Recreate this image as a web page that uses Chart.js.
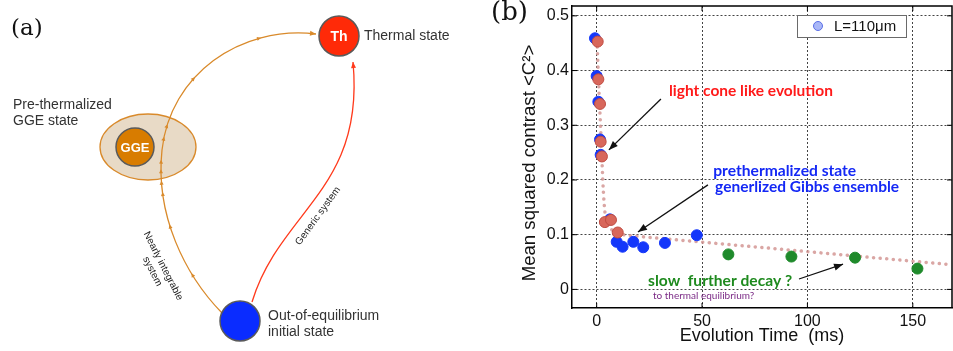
<!DOCTYPE html>
<html lang="en">
<head>
<meta charset="UTF-8">
<title>Prethermalization</title>
<script src="https://cdn.jsdelivr.net/npm/chart.js"></script>
<style>
    body {
        margin: 0;
        background: #fff;
        width: 953px;
        height: 351px;
        position: relative;
        overflow: hidden;
    }
    #diagram { position: absolute; left: 0; top: 0; }
    #mycanvas { position: absolute; left: 480px; top: 0; }
</style>
</head>
<body>
<canvas id="diagram" width="480" height="351"></canvas>
<canvas id="mycanvas" width="473" height="351"></canvas>

<script>
// ---- panel (b) data ----
var blueX  = [-0.8, 0.0, 0.8, 1.6, 1.9, 6.3, 9.5, 12.3, 17.4, 22.1, 32.4, 47.5];
var blueY  = [0.459, 0.390, 0.343, 0.274, 0.246, 0.128, 0.087, 0.078, 0.087, 0.077, 0.085, 0.099];
var redX   = [0.5, 0.8, 1.6, 1.9, 2.5, 3.9, 6.8, 10.0];
var redY   = [0.453, 0.384, 0.339, 0.270, 0.243, 0.123, 0.127, 0.104];
var greenX = [62.5, 92.4, 122.6, 152.2];
var greenY = [0.064, 0.060, 0.058, 0.038];
// dotted guide curve
var fitX = [0.2, 0.8, 1.6, 2.4, 2.9, 3.5, 4.4, 6.5, 10, 20, 34, 80, 120, 166];
var fitY = [0.455, 0.39, 0.32, 0.25, 0.20, 0.16, 0.128, 0.112, 0.103, 0.097, 0.092, 0.076, 0.062, 0.046];

var xTicks = [0, 50, 100, 150];
var yTicks = [0, 0.1, 0.2, 0.3, 0.4, 0.5];
var legendLabel = 'L=110μm';
var xTitle = 'Evolution Time  (ms)';
var yTitle = 'Mean squared contrast <C²>';

// text notes on the plot (data coordinates)
var notes = [
    { text: 'light cone like evolution', x: 34.3, y: 0.3625, color: '#ff1a1a', font: 'bold 16px Lato', w: 164 },
    { text: 'prethermalized state', x: 55.3, y: 0.2167, color: '#1428f5', font: 'bold 16px Lato', w: 143 },
    { text: 'generlized Gibbs ensemble', x: 56.2, y: 0.1872, color: '#1428f5', font: 'bold 16px Lato', w: 184 },
    { text: 'slow  further decay ?', x: 24.4, y: 0.0152, color: '#1e8a1e', font: 'bold 16px Lato', w: 144 },
    { text: 'to thermal equilibrium?', x: 26.7, y: -0.0122, color: '#7b2b86', font: '10px Lato', w: 106 }
];
var arrows = [
    { x1: 30.5, y1: 0.348, x2: 5.8, y2: 0.255 },
    { x1: 52.8, y1: 0.191, x2: 19.6, y2: 0.105 },
    { x1: 96.0, y1: 0.019, x2: 116.9, y2: 0.046 }
];

function pts(xs, ys) {
    return xs.map(function (x, i) { return { x: x, y: ys[i] }; });
}

function arrowHead(ctx, x1, y1, x2, y2, len, half) {
    var a = Math.atan2(y2 - y1, x2 - x1);
    ctx.beginPath();
    ctx.moveTo(x2, y2);
    ctx.lineTo(x2 - len * Math.cos(a) + half * Math.sin(a), y2 - len * Math.sin(a) - half * Math.cos(a));
    ctx.lineTo(x2 - len * Math.cos(a) - half * Math.sin(a), y2 - len * Math.sin(a) + half * Math.cos(a));
    ctx.closePath();
    ctx.fill();
}

var decorPlugin = {
    id: 'decor',
    afterDraw: function (chart) {
        var ctx = chart.ctx;
        var a = chart.chartArea;
        var sx = chart.scales.x, sy = chart.scales.y;
        ctx.save();

        // frame top / right + inward tick marks
        ctx.strokeStyle = '#000';
        ctx.lineWidth = 1.5;
        ctx.beginPath();
        ctx.moveTo(a.left, a.top); ctx.lineTo(a.right, a.top); ctx.lineTo(a.right, a.bottom);
        ctx.stroke();
        ctx.lineWidth = 1;
        xTicks.forEach(function (v) {
            var p = sx.getPixelForValue(v);
            ctx.beginPath();
            ctx.moveTo(p, a.top); ctx.lineTo(p, a.top + 5);
            ctx.moveTo(p, a.bottom); ctx.lineTo(p, a.bottom - 5);
            ctx.stroke();
        });
        yTicks.forEach(function (v) {
            var p = sy.getPixelForValue(v);
            ctx.beginPath();
            ctx.moveTo(a.left, p); ctx.lineTo(a.left + 5, p);
            ctx.moveTo(a.right, p); ctx.lineTo(a.right - 5, p);
            ctx.stroke();
        });

        // legend box
        var lx = a.right - 155, ly = a.top + 9;
        ctx.fillStyle = '#fff';
        ctx.fillRect(lx, ly, 109, 22);
        ctx.strokeStyle = '#6a6a6a';
        ctx.lineWidth = 1;
        ctx.strokeRect(lx + 0.5, ly + 0.5, 109, 22);
        ctx.beginPath();
        ctx.arc(lx + 21, ly + 11, 4.5, 0, Math.PI * 2);
        ctx.fillStyle = '#a9b7f7';
        ctx.fill();
        ctx.strokeStyle = '#5b6fe6';
        ctx.stroke();
        ctx.fillStyle = '#111';
        ctx.font = '15px "Liberation Sans", Arial, sans-serif';
        ctx.textBaseline = 'middle';
        ctx.textAlign = 'left';
        ctx.fillText(legendLabel, lx + 37, ly + 12);

        // arrows
        ctx.strokeStyle = '#111';
        ctx.fillStyle = '#111';
        ctx.lineWidth = 1.3;
        arrows.forEach(function (r) {
            var x1 = sx.getPixelForValue(r.x1), y1 = sy.getPixelForValue(r.y1);
            var x2 = sx.getPixelForValue(r.x2), y2 = sy.getPixelForValue(r.y2);
            ctx.beginPath();
            ctx.moveTo(x1, y1); ctx.lineTo(x2, y2);
            ctx.stroke();
            arrowHead(ctx, x1, y1, x2, y2, 9, 3.5);
        });

        // notes
        notes.forEach(function (n) {
            ctx.font = n.font;
            ctx.fillStyle = n.color;
            ctx.fillText(n.text, sx.getPixelForValue(n.x), sy.getPixelForValue(n.y), n.w);
        });

        // axis titles
        ctx.fillStyle = '#111';
        ctx.font = '18px "Liberation Sans", Arial, sans-serif';
        ctx.textAlign = 'center';
        ctx.fillText(xTitle, 282, 336);
        ctx.translate(50, 163);
        ctx.rotate(-Math.PI / 2);
        ctx.font = '18.6px "Liberation Sans", Arial, sans-serif';
        ctx.fillText(yTitle, 0, 0);
        ctx.restore();

        // panel label
        ctx.save();
        ctx.fillStyle = '#111';
        ctx.font = '26px "DejaVu Serif", serif';
        ctx.textBaseline = 'alphabetic';
        ctx.fillText('(b)', 11, 20);
        ctx.restore();
    }
};

new Chart(document.getElementById('mycanvas'), {
    type: 'scatter',
    data: {
        datasets: [
            {
                type: 'line', label: 'guide', data: pts(fitX, fitY),
                borderColor: 'rgba(212,150,148,0.85)', borderWidth: 3.5,
                borderDash: [0.1, 6.5], borderCapStyle: 'round',
                cubicInterpolationMode: 'monotone',
                pointRadius: 0, fill: false, order: 4
            },
            {
                label: legendLabel, data: pts(blueX, blueY),
                backgroundColor: '#1437fa', borderColor: '#1437fa',
                pointRadius: 5.5, order: 3
            },
            {
                label: 'late', data: pts(greenX, greenY),
                backgroundColor: '#1f8a2b', borderColor: '#1f8a2b',
                pointRadius: 5.5, order: 2
            },
            {
                label: 'early', data: pts(redX, redY),
                backgroundColor: '#d8675b', borderColor: '#c04c42', borderWidth: 1,
                pointRadius: 5.5, order: 1
            }
        ]
    },
    options: {
        responsive: false,
        animation: false,
        devicePixelRatio: 1,
        layout: { autoPadding: false, padding: { left: 0, top: 6, right: 1, bottom: 0 } },
        plugins: { legend: { display: false }, tooltip: { enabled: false } },
        scales: {
            x: {
                type: 'linear', min: -11.7, max: 168.6,
                afterBuildTicks: function (s) { s.ticks = xTicks.map(function (v) { return { value: v }; }); },
                afterFit: function (s) { s.height = 43; s.paddingLeft = 0; s.paddingRight = 0; },
                ticks: { color: '#111', padding: 4, font: { family: '"Liberation Sans", Arial', size: 16 } },
                grid: { color: '#444', lineWidth: 1, drawTicks: false },
                border: { color: '#000', width: 1.5, dash: [2, 2] }
            },
            y: {
                type: 'linear', min: -0.034, max: 0.518,
                afterBuildTicks: function (s) { s.ticks = yTicks.map(function (v) { return { value: v }; }); },
                afterFit: function (s) { s.width = 92; s.paddingTop = 0; s.paddingBottom = 0; },
                ticks: {
                    color: '#111', padding: 3, font: { family: '"Liberation Sans", Arial', size: 16 },
                    callback: function (v) { return v === 0 ? '0' : String(Math.round(v * 10) / 10); }
                },
                grid: { color: '#444', lineWidth: 1, drawTicks: false },
                border: { color: '#000', width: 1.5, dash: [2, 2] }
            }
        }
    },
    plugins: [decorPlugin]
});

// ---- panel (a): schematic ----
var d = document.getElementById('diagram').getContext('2d');

function bez(p, t) {
    var u = 1 - t;
    return {
        x: u * u * u * p[0][0] + 3 * u * u * t * p[1][0] + 3 * u * t * t * p[2][0] + t * t * t * p[3][0],
        y: u * u * u * p[0][1] + 3 * u * u * t * p[1][1] + 3 * u * t * t * p[2][1] + t * t * t * p[3][1]
    };
}
function drawBez(p) {
    d.beginPath();
    d.moveTo(p[0][0], p[0][1]);
    d.bezierCurveTo(p[1][0], p[1][1], p[2][0], p[2][1], p[3][0], p[3][1]);
    d.stroke();
}
function markOn(p, t, len, half) {
    var a = bez(p, t - 0.01), b = bez(p, t);
    arrowHead(d, a.x, a.y, b.x, b.y, len, half);
}
function disc(x, y, r, fill) {
    d.beginPath();
    d.arc(x, y, r, 0, Math.PI * 2);
    d.fillStyle = fill;
    d.fill();
    d.lineWidth = 1.5;
    d.strokeStyle = '#5a5a5a';
    d.stroke();
}

// GGE halo
d.beginPath();
d.ellipse(148, 147, 48, 33, 0, 0, Math.PI * 2);
d.fillStyle = '#e8dac6';
d.fill();
d.lineWidth = 1.3;
d.strokeStyle = '#d98a2b';
d.stroke();
disc(135, 147, 19, '#d87c00');

// orange path (nearly integrable)
var seg1 = [[222, 313], [185, 275], [155, 215], [162, 150]];
var seg2 = [[162, 150], [170, 75], [240, 25], [316, 34]];
d.strokeStyle = '#d98a2b';
d.fillStyle = '#d98a2b';
d.lineWidth = 1.3;
drawBez(seg1);
drawBez(seg2);
[0.3, 0.6, 0.78, 0.84, 0.9, 0.95].forEach(function (t) { markOn(seg1, t, 4, 2); });
[0.06, 0.12, 0.38, 0.75].forEach(function (t) { markOn(seg2, t, 4, 2); });
markOn(seg2, 1, 6, 2.5);

// red path (generic)
var seg3 = [[252, 302], [280, 210], [365, 190], [353, 62]];
d.strokeStyle = '#ff3a1c';
d.fillStyle = '#ff3a1c';
drawBez(seg3);
markOn(seg3, 1, 6, 2.5);

// state discs
disc(339, 36, 20, '#ff2a08');
disc(240, 321, 20, '#0a2cff');

d.fillStyle = '#fff';
d.textAlign = 'center';
d.textBaseline = 'middle';
d.font = 'bold 14px "Liberation Sans", Arial';
d.fillText('Th', 339, 37);
d.font = 'bold 13px "Liberation Sans", Arial';
d.fillText('GGE', 135, 148);

d.fillStyle = '#333';
d.textAlign = 'left';
d.font = '14px "Liberation Sans", Arial';
d.fillText('Thermal state', 364, 36);
d.fillText('Pre-thermalized', 13, 105);
d.fillText('GGE state', 13, 121);
d.fillText('Out-of-equilibrium', 268, 316);
d.fillText('initial state', 268, 332);

d.fillStyle = '#222';
d.font = '10px "Liberation Sans", Arial';
d.textAlign = 'center';
d.save();
d.translate(318, 216);
d.rotate(-54 * Math.PI / 180);
d.fillText('Generic system', 0, 0);
d.restore();
d.save();
d.translate(163, 266);
d.rotate(63 * Math.PI / 180);
d.fillText('Nearly integrable', 0, 0);
d.fillText('system', 0, 12);
d.restore();

d.fillStyle = '#111';
d.textAlign = 'left';
d.textBaseline = 'alphabetic';
d.font = '23px "DejaVu Serif", serif';
d.fillText('(a)', 11, 35);
</script>
</body>
</html>
